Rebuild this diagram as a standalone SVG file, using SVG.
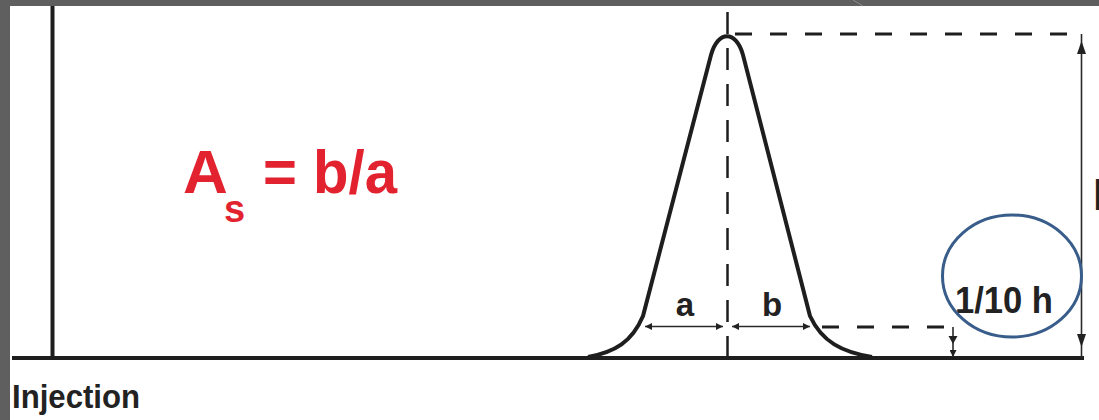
<svg xmlns="http://www.w3.org/2000/svg" width="1099" height="420" viewBox="0 0 1099 420">
<style>
.ax{stroke:#1e1e1e;stroke-width:4;fill:none}
.thin{stroke:#2a2a2a;stroke-width:1.6;fill:none}
.dash{stroke:#1e1e1e;stroke-width:3;fill:none;stroke-dasharray:17 18}
.vdash{stroke:#1e1e1e;stroke-width:2.5;fill:none;stroke-dasharray:22 14}
.lbl{font-family:"Liberation Sans",Arial,sans-serif;font-weight:bold;fill:#222}
.red{font-family:"Liberation Sans",Arial,sans-serif;font-weight:bold;fill:#e2232f}
</style>
<defs>
<marker id="ah" viewBox="0 0 10 10" refX="10" refY="5" markerWidth="9" markerHeight="7" markerUnits="userSpaceOnUse" orient="auto-start-reverse">
<path d="M0,0 L10,5 L0,10 z" fill="#222"/>
</marker>
</defs>
<rect width="1099" height="420" fill="#ffffff"/>
<rect x="0" y="0" width="1099" height="6" fill="#5f5f5f"/>
<rect x="0" y="0" width="10" height="420" fill="#5f5f5f"/>
<line x1="853" y1="0" x2="863" y2="6" stroke="#8a8a8a" stroke-width="1"/>
<g id="axes">
<line class="ax" x1="52.5" y1="6" x2="52.5" y2="358"/>
<line class="ax" x1="12" y1="358" x2="1084" y2="358"/>
</g>
<g id="peak">
<path class="ax" d="M588,357 C615,352 632,342 643,316 L711,55 C718,30 736,30 743,55 L810,316 C822,342 842,352 872,357"/>
</g>
<g id="connectors">
<line class="vdash" x1="727.5" y1="12" x2="727.5" y2="362"/>
<line class="dash" x1="735" y1="34" x2="1078" y2="34"/>
<line class="dash" x1="822" y1="327" x2="953" y2="327"/>
<line class="thin" x1="953" y1="327" x2="953" y2="357" marker-end="url(#ah)"/>
<path d="M948.5,336 L957.5,336 L953,344 z" fill="#222"/>
<line class="thin" x1="1081.5" y1="34" x2="1081.5" y2="358"/>
<path d="M1081.5,41 L1077,54 L1086,54 z" fill="#222"/>
<path d="M1081.5,347 L1077,334 L1086,334 z" fill="#222"/>
<line class="thin" x1="645" y1="326.5" x2="723" y2="326.5" marker-start="url(#ah)" marker-end="url(#ah)"/>
<line class="thin" x1="732" y1="326.5" x2="810" y2="326.5" marker-start="url(#ah)" marker-end="url(#ah)"/>
</g>
<g id="labels">
<text class="lbl" x="685" y="316" font-size="33" text-anchor="middle">a</text>
<text class="lbl" x="772" y="316" font-size="33" text-anchor="middle">b</text>
<text class="lbl" x="955" y="313" font-size="37" textLength="98" lengthAdjust="spacingAndGlyphs">1/10 h</text>
<text class="lbl" x="1093" y="210" font-size="42">h</text>
<text class="lbl" x="12" y="408" font-size="34" textLength="128" lengthAdjust="spacingAndGlyphs">Injection</text>
</g>
<g id="formula">
<text class="red" x="183" y="193" font-size="62">A</text>
<text class="red" x="224" y="222" font-size="38">s</text>
<text class="red" x="263" y="193" font-size="62" textLength="134" lengthAdjust="spacingAndGlyphs">= b/a</text>
</g>
<g id="highlight">
<ellipse cx="1012" cy="276" rx="69.5" ry="61" fill="none" stroke="#385d8a" stroke-width="3"/>
</g>
</svg>
